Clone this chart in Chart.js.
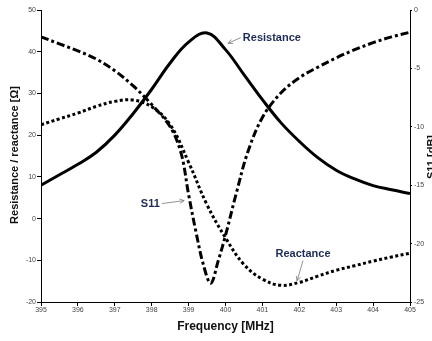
<!DOCTYPE html>
<html>
<head>
<meta charset="utf-8">
<script src="https://cdn.jsdelivr.net/npm/chart.js@4/dist/chart.umd.min.js"></script>
<style>
  html, body { margin: 0; padding: 0; background: #fff; }
  #wrap { width: 432px; height: 341px; }
</style>
</head>
<body>
<div id="wrap"><canvas id="chart1"></canvas></div>
<script>
// frequency grid [MHz]
const freq = [395, 395.5, 396, 396.5, 397, 397.5, 398, 398.5, 399, 399.5, 400,
              400.5, 401, 401.5, 402, 402.5, 403, 403.5, 404, 404.5, 405];
// resistance / reactance [Ohm]
const resistance = [8, 10.5, 13, 15.9, 20, 25.2, 31, 37.3, 42.3, 44.5, 40.5,
                    34.5, 28.5, 23, 18.5, 14.6, 11.6, 9.5, 7.9, 6.9, 6];
const reactance = [22.5, 23.9, 25.3, 26.9, 28.1, 28.4, 26.8, 22.5, 13.5, 3.3, -4.6,
                   -11, -14.5, -16, -15.3, -13.8, -12.4, -11.3, -10.2, -9.2, -8.3];
// S11 [dB], denser around the dip
const s11Freq = [395, 395.5, 396, 396.5, 397, 397.5, 398, 398.5, 398.8, 399, 399.2,
                 399.4, 399.6, 399.8, 400, 400.3, 400.6, 401, 401.5, 402, 402.5,
                 403, 403.5, 404, 404.5, 405];
const s11 = [-2.3, -2.9, -3.5, -4.2, -5.2, -6.5, -8.1, -10.0, -12.3, -15.8, -19.0,
             -21.8, -23.4, -21.5, -19.3, -15.6, -12.2, -9.2, -7.1, -5.8, -4.9,
             -4.1, -3.4, -2.8, -2.3, -1.9];

const xTicks = [395, 396, 397, 398, 399, 400, 401, 402, 403, 404, 405];

// callouts: text position and arrow tip in data units (left axis)
const callouts = [
    { text: 'Resistance', tx: 400.47, ty: 43.4, ax: 400.07, ay: 42, align: 'left' },
    { text: 'S11', tx: 398.22, ty: 3.6, ax: 398.88, ay: 4.3, align: 'right' },
    { text: 'Reactance', tx: 402.1, ty: -8.4, ax: 401.94, ay: -14.9, align: 'center' }
];

function xy(xs, ys) {
    return xs.map((x, i) => ({ x: x, y: ys[i] }));
}

const FONT = '"Liberation Sans", Arial, sans-serif';

const textPlugin = {
    id: 'texts',
    afterDraw(chart) {
        const ctx = chart.ctx;
        const xs = chart.scales.x, ys = chart.scales.y;
        ctx.save();
        // callouts
        callouts.forEach(c => {
            const tx = xs.getPixelForValue(c.tx), ty = ys.getPixelForValue(c.ty);
            const ax = xs.getPixelForValue(c.ax), ay = ys.getPixelForValue(c.ay);
            ctx.font = 'bold 11px ' + FONT;
            ctx.fillStyle = '#1d2b55';
            ctx.textAlign = c.align;
            ctx.textBaseline = 'middle';
            ctx.fillText(c.text, tx, ty);
            let sx = tx, sy = ty;
            if (c.align === 'left') sx = tx - 2;
            else if (c.align === 'right') sx = tx + 2;
            else sy = ty + 7;
            ctx.strokeStyle = '#777';
            ctx.lineWidth = 0.8;
            ctx.beginPath();
            ctx.moveTo(sx, sy);
            ctx.lineTo(ax, ay);
            ctx.stroke();
            const ang = Math.atan2(ay - sy, ax - sx);
            ctx.beginPath();
            ctx.moveTo(ax - 5 * Math.cos(ang - 0.45), ay - 5 * Math.sin(ang - 0.45));
            ctx.lineTo(ax, ay);
            ctx.lineTo(ax - 5 * Math.cos(ang + 0.45), ay - 5 * Math.sin(ang + 0.45));
            ctx.stroke();
        });
        // axis titles
        ctx.fillStyle = '#111';
        ctx.font = 'bold 12px ' + FONT;
        ctx.textAlign = 'center';
        ctx.textBaseline = 'middle';
        ctx.fillText('Frequency [MHz]', (chart.chartArea.left + chart.chartArea.right) / 2, 327);
        ctx.save();
        ctx.translate(15, 155);
        ctx.rotate(-Math.PI / 2);
        ctx.font = 'bold 11px ' + FONT;
        ctx.fillText('Resistance / reactance [\u03A9]', 0, 0);
        ctx.restore();
        ctx.save();
        ctx.translate(432, 157);
        ctx.rotate(-Math.PI / 2);
        ctx.font = 'bold 11px ' + FONT;
        ctx.textBaseline = 'alphabetic';
        ctx.fillText('S11 [dB]', 0, 3);
        ctx.restore();
        ctx.restore();
    }
};

const tickFont = { family: FONT, size: 7 };

const ctx = document.getElementById('chart1').getContext('2d');
const chart1 = new Chart(ctx, {
    type: 'line',
    data: {
        datasets: [
            {
                label: 'Resistance',
                data: xy(freq, resistance),
                yAxisID: 'y',
                borderColor: '#000',
                borderWidth: 3,
                tension: 0.4,
                pointRadius: 0,
                fill: false
            },
            {
                label: 'Reactance',
                data: xy(freq, reactance),
                yAxisID: 'y',
                borderColor: '#000',
                borderWidth: 3,
                borderDash: [3, 2.5],
                tension: 0.4,
                pointRadius: 0,
                fill: false
            },
            {
                label: 'S11',
                data: xy(s11Freq, s11),
                yAxisID: 'y1',
                borderColor: '#000',
                borderWidth: 3,
                borderDash: [8, 3, 3, 3],
                tension: 0.35,
                pointRadius: 0,
                fill: false
            }
        ]
    },
    options: {
        responsive: true,
        maintainAspectRatio: false,
        animation: false,
        layout: { padding: { top: 10, left: 0, right: 0, bottom: 0 } },
        plugins: {
            legend: { display: false },
            tooltip: { enabled: false }
        },
        scales: {
            x: {
                type: 'linear',
                min: 395,
                max: 405,
                afterBuildTicks: (s) => { s.ticks = xTicks.map(v => ({ value: v })); },
                afterFit: (s) => { s.height = 39; },
                border: { color: '#000', width: 1 },
                grid: { drawOnChartArea: false, color: '#000', tickLength: 4 },
                ticks: { font: tickFont, color: '#444', padding: 0, maxRotation: 0 }
            },
            y: {
                position: 'left',
                min: -20,
                max: 50,
                afterFit: (s) => { s.width = 41; },
                border: { color: '#000', width: 1 },
                grid: { drawOnChartArea: false, color: '#000', tickLength: 4 },
                ticks: { stepSize: 10, font: tickFont, color: '#444', padding: 1 }
            },
            y1: {
                position: 'right',
                min: -25,
                max: 0,
                afterFit: (s) => { s.width = 22; },
                border: { color: '#000', width: 1 },
                grid: { drawOnChartArea: false, color: '#000', tickLength: 2 },
                ticks: { stepSize: 5, font: tickFont, color: '#444', padding: 2 }
            }
        }
    },
    plugins: [textPlugin]
});
</script>
</body>
</html>
